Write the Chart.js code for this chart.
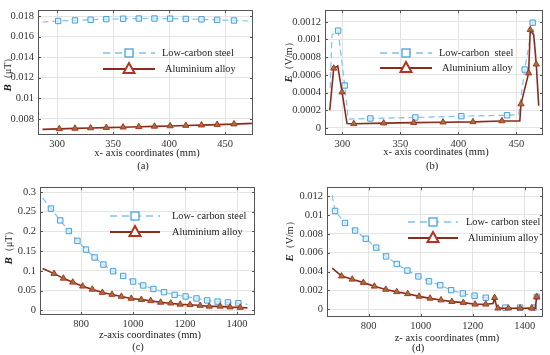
<!DOCTYPE html>
<html>
<head>
<meta charset="utf-8">
<script src="https://cdn.jsdelivr.net/npm/chart.js@4"></script>
<style>
  body { margin: 0; background: #fff; width: 550px; height: 355px; position: relative; overflow: hidden; }
  canvas { position: absolute; }
</style>
</head>
<body>
<canvas id="chartA" width="275" height="177" style="left:0;top:0"></canvas>
<canvas id="chartB" width="275" height="177" style="left:275px;top:0"></canvas>
<canvas id="chartC" width="275" height="178" style="left:0;top:177px"></canvas>
<canvas id="chartD" width="275" height="178" style="left:275px;top:177px"></canvas>
<script>
// (a) B along x
const xTicksA = [300, 350, 400, 450];
const yTicksA = [0.008, 0.01, 0.012, 0.014, 0.016, 0.018];
const steelXA = [287, 301, 316, 330, 344, 359, 373, 387, 401, 415, 429, 443, 458, 471];
const steelYA = [0.01742, 0.01752, 0.01758, 0.01764, 0.0177, 0.01774, 0.01776, 0.01776, 0.01775, 0.01772, 0.01768, 0.01763, 0.01757, 0.01752];
const alloyXA = [287, 302, 316, 330, 344, 359, 373, 387, 401, 415, 429, 443, 458, 474];
const alloyYA = [0.00698, 0.00703, 0.00707, 0.00711, 0.00715, 0.00719, 0.00723, 0.00727, 0.00731, 0.00735, 0.00739, 0.00744, 0.00749, 0.00756];

// (b) E along x
const xTicksB = [300, 350, 400, 450];
const yTicksB = [0, 0.0002, 0.0004, 0.0006, 0.0008, 0.001, 0.0012];
const steelXB = [289.5, 291, 296.3, 302, 305, 324.1, 362.9, 402.6, 442, 452, 457.2, 464.1, 467];
const steelYB = [0.00045, 0.00105, 0.0011, 0.00048, 0.0001, 0.000107, 0.000118, 0.000133, 0.000143, 0.00015, 0.00066, 0.00119, 0.0008];
const alloyXB = [289.1, 292.5, 296, 299.7, 304, 309.8, 335.6, 361.5, 386.8, 412.6, 437.6, 453, 454, 460.6, 462, 465, 467.2, 469.3];
const alloyYB = [0.0002, 0.000674, 0.0007, 0.000405, 0.00005, 0.000047, 0.000054, 0.00006, 0.000065, 0.000068, 0.000079, 0.00008, 0.00027, 0.00062, 0.00111, 0.00105, 0.00072, 0.00025];

// (c) B along z
const xTicksC = [800, 1000, 1200, 1400];
const yTicksC = [0, 0.05, 0.1, 0.15, 0.2, 0.25, 0.3];
const steelXC = [652, 684, 720, 753, 786, 819, 852, 886, 923, 962, 1000, 1039, 1078, 1119, 1160, 1202, 1244, 1285, 1325, 1365, 1405, 1440];
const steelYC = [0.285, 0.258, 0.228, 0.201, 0.176, 0.154, 0.134, 0.116, 0.099, 0.087, 0.073, 0.063, 0.054, 0.046, 0.039, 0.035, 0.03, 0.025, 0.022, 0.02, 0.018, 0.015];
const alloyXC = [652, 696, 732, 768, 806, 843, 882, 919, 955, 993, 1032, 1068, 1106, 1145, 1181, 1219, 1258, 1293, 1335, 1373, 1412, 1440];
const alloyYC = [0.106, 0.093, 0.081, 0.071, 0.061, 0.053, 0.045, 0.04, 0.035, 0.03, 0.027, 0.024, 0.02, 0.018, 0.015, 0.014, 0.012, 0.01, 0.01, 0.008, 0.007, 0.006];

// (d) E along z
const xTicksD = [800, 1000, 1200, 1400];
const yTicksD = [0, 0.002, 0.004, 0.006, 0.008, 0.01, 0.012];
const steelXD = [660, 671, 709, 748, 789, 829, 867, 908, 949, 991, 1032, 1075, 1117, 1162, 1207, 1250, 1280, 1293, 1325, 1382, 1434, 1440, 1446];
const steelYD = [0.0121, 0.01043, 0.00915, 0.00835, 0.00748, 0.00654, 0.0056, 0.0048, 0.0041, 0.00348, 0.00296, 0.00254, 0.00202, 0.00167, 0.00143, 0.00122, 0.00115, 0.00017, 0.00017, 0.00017, 0.00017, 0.0002, 0.0013];
const alloyXD = [660, 696, 737, 780, 822, 866, 908, 950, 994, 1036, 1078, 1120, 1164, 1209, 1250, 1278, 1284, 1293, 1297, 1337, 1382, 1427, 1440, 1446];
const alloyYD = [0.00435, 0.00351, 0.00317, 0.00282, 0.00243, 0.00209, 0.00184, 0.00163, 0.00136, 0.00115, 0.00097, 0.0008, 0.0007, 0.00052, 0.00052, 0.0006, 0.00122, 0.0001, 0.0001, 0.0001, 0.0001, 0.0001, 0.0001, 0.00132];

const SERIF = '"Liberation Serif", "DejaVu Serif", serif';
const STEEL = '#7cc2ea';
const STEEL_MARK = '#4b9fd9';
const ALLOY = '#8a2c1c';
const ALLOY_MARK = '#b4331f';
const ALLOY_FILL = '#97773a';

function toPoints(xs, ys) {
  return xs.map((x, i) => ({ x: x, y: ys[i] }));
}

// draws frame, inner ticks, axis titles and the in-plot legend
const decor = {
  id: 'decor',
  afterDraw(chart, args, o) {
    const ctx = chart.ctx;
    const a = chart.chartArea;
    const sx = chart.scales.x, sy = chart.scales.y;
    ctx.save();
    ctx.strokeStyle = '#555';
    ctx.lineWidth = 1;
    ctx.beginPath();
    sx.ticks.forEach(t => {
      const p = Math.round(sx.getPixelForValue(t.value)) + 0.5;
      ctx.moveTo(p, a.bottom); ctx.lineTo(p, a.bottom - 3);
      ctx.moveTo(p, a.top); ctx.lineTo(p, a.top + 3);
    });
    sy.ticks.forEach(t => {
      const p = Math.round(sy.getPixelForValue(t.value)) + 0.5;
      ctx.moveTo(a.left, p); ctx.lineTo(a.left + 3, p);
      ctx.moveTo(a.right, p); ctx.lineTo(a.right - 3, p);
    });
    ctx.stroke();
    ctx.strokeRect(Math.round(a.left) + 0.5, Math.round(a.top) + 0.5,
      Math.round(a.right - a.left) - 1, Math.round(a.bottom - a.top) - 1);

    ctx.fillStyle = '#222';
    ctx.textAlign = 'center';
    ctx.textBaseline = 'middle';
    ctx.font = '10.5px ' + SERIF;
    ctx.fillText(o.xTitle, o.xTitleX, o.xTitleY);
    ctx.fillText(o.label, o.labelX, o.labelY);

    // rotated y title: bold italic symbol + unit
    ctx.save();
    ctx.translate(o.yTitleX, o.yTitleY);
    ctx.rotate(-Math.PI / 2);
    ctx.textAlign = 'left';
    ctx.font = 'italic bold 11px ' + SERIF;
    const w1 = ctx.measureText(o.ySymbol).width;
    ctx.font = '10px ' + SERIF;
    const w2 = ctx.measureText(o.yUnit).width;
    const x0 = -(w1 + w2) / 2;
    ctx.font = 'italic bold 11px ' + SERIF;
    ctx.fillText(o.ySymbol, x0, 0);
    ctx.font = '10px ' + SERIF;
    ctx.fillText(o.yUnit, x0 + w1, 0);
    ctx.restore();

    // legend
    const L = o.legend;
    const mid = (L.x1 + L.x2) / 2;
    ctx.strokeStyle = STEEL;
    ctx.lineWidth = 1.3;
    ctx.setLineDash([7, 5]);
    ctx.beginPath();
    ctx.moveTo(L.x1, L.y1); ctx.lineTo(L.x2, L.y1);
    ctx.stroke();
    ctx.setLineDash([]);
    ctx.fillStyle = '#fff';
    ctx.fillRect(mid - 4, L.y1 - 4, 8, 8);
    ctx.strokeStyle = STEEL_MARK;
    ctx.strokeRect(mid - 4, L.y1 - 4, 8, 8);

    ctx.strokeStyle = ALLOY;
    ctx.lineWidth = 2;
    ctx.beginPath();
    ctx.moveTo(L.x1, L.y2); ctx.lineTo(L.x2, L.y2);
    ctx.stroke();
    ctx.beginPath();
    ctx.moveTo(mid, L.y2 - 6); ctx.lineTo(mid + 5.5, L.y2 + 4); ctx.lineTo(mid - 5.5, L.y2 + 4);
    ctx.closePath();
    ctx.fillStyle = '#fff';
    ctx.fill();
    ctx.strokeStyle = ALLOY_MARK;
    ctx.stroke();

    ctx.fillStyle = '#222';
    ctx.textAlign = 'left';
    ctx.font = '10.3px ' + SERIF;
    ctx.fillText(L.steelText, L.tx1, L.y1);
    ctx.fillText('Aluminium alloy', L.tx2, L.y2);
    ctx.restore();
  }
};

function makeChart(id, s) {
  const bareRadius = (bare, r) => ctx => bare.indexOf(ctx.dataIndex) >= 0 ? 0 : r;
  return new Chart(document.getElementById(id), {
    type: 'scatter',
    data: {
      datasets: [{
        label: 'Aluminium alloy',
        data: toPoints(s.alloyX, s.alloyY),
        showLine: true,
        borderColor: ALLOY,
        borderWidth: 1.6,
        pointStyle: 'triangle',
        pointRadius: bareRadius(s.alloyBare, 3.6),
        pointBackgroundColor: ALLOY_FILL,
        pointBorderColor: ALLOY_MARK,
        pointBorderWidth: 1,
        order: 0
      }, {
        label: 'Low-carbon steel',
        data: toPoints(s.steelX, s.steelY),
        showLine: true,
        borderColor: STEEL,
        borderWidth: 1.2,
        borderDash: [6, 4],
        pointStyle: 'rect',
        pointRadius: bareRadius(s.steelBare, 3.8),
        pointBackgroundColor: 'rgba(215,240,252,0.7)',
        pointBorderColor: STEEL_MARK,
        pointBorderWidth: 1,
        order: 1
      }]
    },
    options: {
      responsive: false,
      animation: false,
      events: [],
      layout: { padding: { top: s.padTop, right: s.padRight, left: 0, bottom: 0 } },
      scales: {
        x: {
          type: 'linear',
          min: s.xMin,
          max: s.xMax,
          afterBuildTicks: sc => { sc.ticks = s.xTicks.map(v => ({ value: v })); },
          afterFit: sc => { sc.height = s.xHeight; },
          grid: { color: '#e4e4e4', drawTicks: false },
          border: { display: false },
          ticks: { font: { family: SERIF, size: 10.5 }, color: '#333', padding: 3, maxRotation: 0, callback: v => String(v) }
        },
        y: {
          type: 'linear',
          min: s.yMin,
          max: s.yMax,
          afterBuildTicks: sc => { sc.ticks = s.yTicks.map(v => ({ value: v })); },
          afterFit: sc => { sc.width = s.yWidth; },
          grid: { color: '#e4e4e4', drawTicks: false },
          border: { display: false },
          ticks: { font: { family: SERIF, size: 10.5 }, color: '#333', padding: 4, callback: v => String(v) }
        }
      },
      plugins: {
        legend: { display: false },
        tooltip: { enabled: false },
        decor: s.decor
      }
    },
    plugins: [decor]
  });
}

makeChart('chartA', {
  steelX: steelXA, steelY: steelYA, alloyX: alloyXA, alloyY: alloyYA,
  steelBare: [0, 13], alloyBare: [0, 13],
  xTicks: xTicksA, yTicks: yTicksA,
  xMin: 283, xMax: 475, yMin: 0.00643, yMax: 0.01856,
  padTop: 4, padRight: 22, yWidth: 38, xHeight: 42,
  decor: {
    xTitle: 'x- axis coordinates (mm)', xTitleX: 147, xTitleY: 153,
    label: '(a)', labelX: 143, labelY: 166,
    ySymbol: 'B', yUnit: '（μT）', yTitleX: 8, yTitleY: 72,
    legend: { x1: 103, x2: 155, y1: 53, y2: 69, tx1: 162, tx2: 165, steelText: 'Low-carbon steel' }
  }
});

makeChart('chartB', {
  steelX: steelXB, steelY: steelYB, alloyX: alloyXB, alloyY: alloyYB,
  steelBare: [0, 1, 4, 9, 12], alloyBare: [0, 2, 4, 11, 15, 17],
  xTicks: xTicksB, yTicks: yTicksB,
  xMin: 285, xMax: 473, yMin: -0.00008, yMax: 0.00133,
  padTop: 5, padRight: 7, yWidth: 50, xHeight: 42,
  decor: {
    xTitle: 'x- axis coordinates (mm)', xTitleX: 161, xTitleY: 152,
    label: '(b)', labelX: 157, labelY: 166,
    ySymbol: 'E', yUnit: '（V/m）', yTitleX: 14, yTitleY: 60,
    legend: { x1: 105, x2: 157, y1: 53, y2: 68, tx1: 164, tx2: 167, steelText: 'Low-carbon  steel' }
  }
});

makeChart('chartC', {
  steelX: steelXC, steelY: steelYC, alloyX: alloyXC, alloyY: alloyYC,
  steelBare: [0, 21], alloyBare: [0, 21],
  xTicks: xTicksC, yTicks: yTicksC,
  xMin: 642, xMax: 1469, yMin: -0.012, yMax: 0.312,
  padTop: 5, padRight: 20, yWidth: 40, xHeight: 40,
  decor: {
    xTitle: 'z-axis coordinates (mm)', xTitleX: 150, xTitleY: 158,
    label: '(c)', labelX: 138, labelY: 170,
    ySymbol: 'B', yUnit: '（μT）', yTitleX: 9, yTitleY: 68,
    legend: { x1: 110, x2: 160, y1: 39, y2: 55, tx1: 172, tx2: 172, steelText: 'Low- carbon steel' }
  }
});

makeChart('chartD', {
  steelX: steelXD, steelY: steelYD, alloyX: alloyXD, alloyY: alloyYD,
  steelBare: [0, 16, 17, 21], alloyBare: [0, 15, 17, 22],
  xTicks: xTicksD, yTicks: yTicksD,
  xMin: 640, xMax: 1470, yMin: -0.00083, yMax: 0.01294,
  padTop: 8, padRight: 7, yWidth: 52, xHeight: 38,
  decor: {
    xTitle: 'z- axis coordinates (mm)', xTitleX: 172, xTitleY: 161,
    label: '(d)', labelX: 143, labelY: 171,
    ySymbol: 'E', yUnit: '（V/m）', yTitleX: 15, yTitleY: 62,
    legend: { x1: 133, x2: 183, y1: 45, y2: 61, tx1: 191, tx2: 193, steelText: 'Low- carbon steel' }
  }
});
</script>
</body>
</html>
